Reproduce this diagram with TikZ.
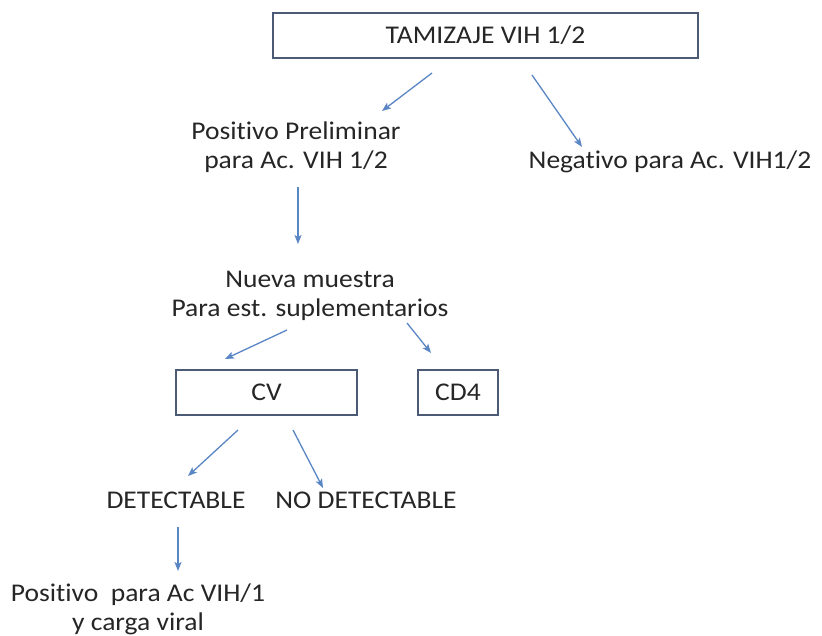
\documentclass[tikz,border=0pt]{standalone}
\usepackage{fontspec}
\setmainfont{Carlito}[FakeStretch=1.08,Ligatures=NoCommon]
\usetikzlibrary{arrows.meta}
\definecolor{boxc}{HTML}{4B5A75}
\definecolor{arrc}{HTML}{5A86C4}
\definecolor{txtc}{HTML}{262626}
\begin{document}
\begin{tikzpicture}[x=1pt,y=-1pt,
  every node/.style={text=txtc,font=\fontsize{25.5}{29}\selectfont},
  boxn/.style={draw=boxc,line width=1.6pt,inner sep=0pt,minimum height=45pt},
  txt/.style={align=center,inner sep=0pt},
  arr/.style={draw=arrc,line width=1.3pt,-{Stealth[length=9pt,width=7pt,inset=2pt]}}]
\useasboundingbox[fill=white] (0,0) rectangle (822,636);
\node[boxn,minimum width=425pt] (tam) at (485.5,35.5) {TAMIZAJE VIH 1/2};
\node[txt] (pos) at (296,147) {Positivo Preliminar\\para Ac. VIH 1/2};
\node[txt] (neg) at (670,162) {Negativo para Ac. VIH1/2};
\node[txt] (nue) at (310,296) {Nueva muestra\\Para est. suplementarios};
\node[boxn,minimum width=181pt] (cv) at (266.5,392.5) {CV};
\node[boxn,minimum width=80pt] (cd4) at (458,392.5) {CD4};
\node[txt] (det) at (176,500) {DETECTABLE};
\node[txt] (nod) at (366,500) {NO DETECTABLE};
\node[txt] (fin) at (138,609) {Positivo~ para Ac VIH/1\\y carga viral};
\coordinate (a1s) at (432,73); \coordinate (a1e) at (382,111);
\coordinate (a2s) at (532,75); \coordinate (a2e) at (582,147);
\coordinate (a3s) at (298,187); \coordinate (a3e) at (298,244);
\coordinate (a4s) at (287,330); \coordinate (a4e) at (225,359);
\coordinate (a5s) at (407,323); \coordinate (a5e) at (431,353);
\coordinate (a6s) at (238,430); \coordinate (a6e) at (188,476);
\coordinate (a7s) at (293,430); \coordinate (a7e) at (323,488);
\coordinate (a8s) at (178,527); \coordinate (a8e) at (178,571);
\draw[arr] (a1s) -- (a1e);
\draw[arr] (a2s) -- (a2e);
\draw[arr] (a3s) -- (a3e);
\draw[arr] (a4s) -- (a4e);
\draw[arr] (a5s) -- (a5e);
\draw[arr] (a6s) -- (a6e);
\draw[arr] (a7s) -- (a7e);
\draw[arr] (a8s) -- (a8e);
\end{tikzpicture}
\end{document}
